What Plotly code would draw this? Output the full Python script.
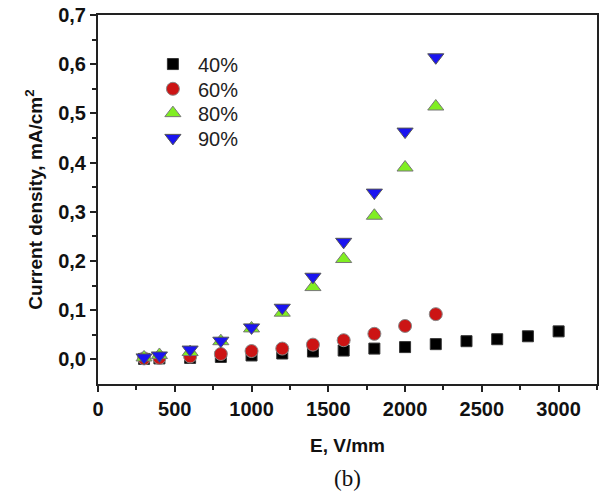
import plotly.graph_objects as go

E40 = [300, 400, 600, 800, 1000, 1200, 1400, 1600, 1800, 2000, 2200, 2400, 2600, 2800, 3000]
J40 = [0.001, 0.002, 0.003, 0.005, 0.008, 0.012, 0.016, 0.018, 0.022, 0.025, 0.031, 0.037, 0.041, 0.047, 0.057]
E60 = [300, 400, 600, 800, 1000, 1200, 1400, 1600, 1800, 2000, 2200]
J60 = [0.002, 0.003, 0.006, 0.011, 0.017, 0.022, 0.030, 0.039, 0.052, 0.068, 0.092]
E80 = [300, 400, 600, 800, 1000, 1200, 1400, 1600, 1800, 2000, 2200]
J80 = [0.004, 0.009, 0.015, 0.037, 0.063, 0.095, 0.147, 0.204, 0.292, 0.390, 0.514]
E90 = [300, 400, 600, 800, 1000, 1200, 1400, 1600, 1800, 2000, 2200]
J90 = [0.004, 0.008, 0.020, 0.038, 0.065, 0.105, 0.168, 0.239, 0.339, 0.463, 0.614]

fig = go.Figure()
fig.add_trace(go.Scatter(x=E40, y=J40, mode="markers", name="40%", legend="legend",
                         marker=dict(symbol="square", size=11, color="#000000",
                                     line=dict(color="#333333", width=1))))
fig.add_trace(go.Scatter(x=E60, y=J60, mode="markers", name="60%", legend="legend2",
                         marker=dict(symbol="circle", size=13, color="#cc1414",
                                     line=dict(color="#888888", width=1))))
fig.add_trace(go.Scatter(x=E80, y=J80, mode="markers", name="80%", legend="legend3",
                         marker=dict(symbol="triangle-up", size=14, color="#80ee22",
                                     line=dict(color="#777777", width=1))))
fig.add_trace(go.Scatter(x=E90, y=J90, mode="markers", name="90%", legend="legend4",
                         marker=dict(symbol="triangle-down", size=14, color="#1a14f0",
                                     line=dict(color="#555555", width=1))))

tickfont = dict(family="Liberation Sans, Arial", size=20, color="#111111", weight="bold")
titlefont = dict(family="Liberation Sans, Arial", size=19, color="#111111", weight="bold")
legfont = dict(family="Liberation Sans, Arial", size=20, color="#222222")

def leg(y):
    return dict(x=0.1, y=y, xanchor="left", yanchor="middle",
                bgcolor="rgba(0,0,0,0)", borderwidth=0, font=legfont, itemwidth=40)

fig.update_layout(
    width=601, height=494,
    margin=dict(l=98, r=2, t=15, b=110),
    paper_bgcolor="white", plot_bgcolor="white",
    separators=",.",
    showlegend=True,
    legend=leg(0.867), legend2=leg(0.800), legend3=leg(0.734), legend4=leg(0.667),
    xaxis=dict(range=[0, 3250], tickvals=[0, 500, 1000, 1500, 2000, 2500, 3000],
               tickformat="d", ticks="outside", ticklen=6, tickwidth=2, tickcolor="#222222",
               minor=dict(tickvals=[250, 750, 1250, 1750, 2250, 2750, 3250], ticks="outside",
                          ticklen=4, tickwidth=2, tickcolor="#222222"),
               showline=True, linecolor="#222222", linewidth=2, mirror=True,
               showgrid=False, zeroline=False, tickfont=tickfont,
               title=dict(text="E, V/mm", standoff=20, font=titlefont)),
    yaxis=dict(range=[-0.05, 0.7], tickvals=[0, 0.1, 0.2, 0.3, 0.4, 0.5, 0.6, 0.7],
               tickformat=".1f", ticks="outside", ticklen=6, tickwidth=2, tickcolor="#222222",
               minor=dict(tickvals=[0.05, 0.15, 0.25, 0.35, 0.45, 0.55, 0.65], ticks="outside",
                          ticklen=4, tickwidth=2, tickcolor="#222222"),
               showline=True, linecolor="#222222", linewidth=2, mirror=True,
               showgrid=False, zeroline=False, tickfont=tickfont,
               title=dict(text="Current density, mA/cm<sup>2</sup>", standoff=11, font=titlefont)),
)

fig.add_annotation(text="(b)", xref="paper", yref="paper", x=0.5, y=-0.255,
                   xanchor="center", yanchor="middle", showarrow=False,
                   font=dict(family="Liberation Serif, Times New Roman", size=23, color="#111111"))

fig.write_html("out.html")
